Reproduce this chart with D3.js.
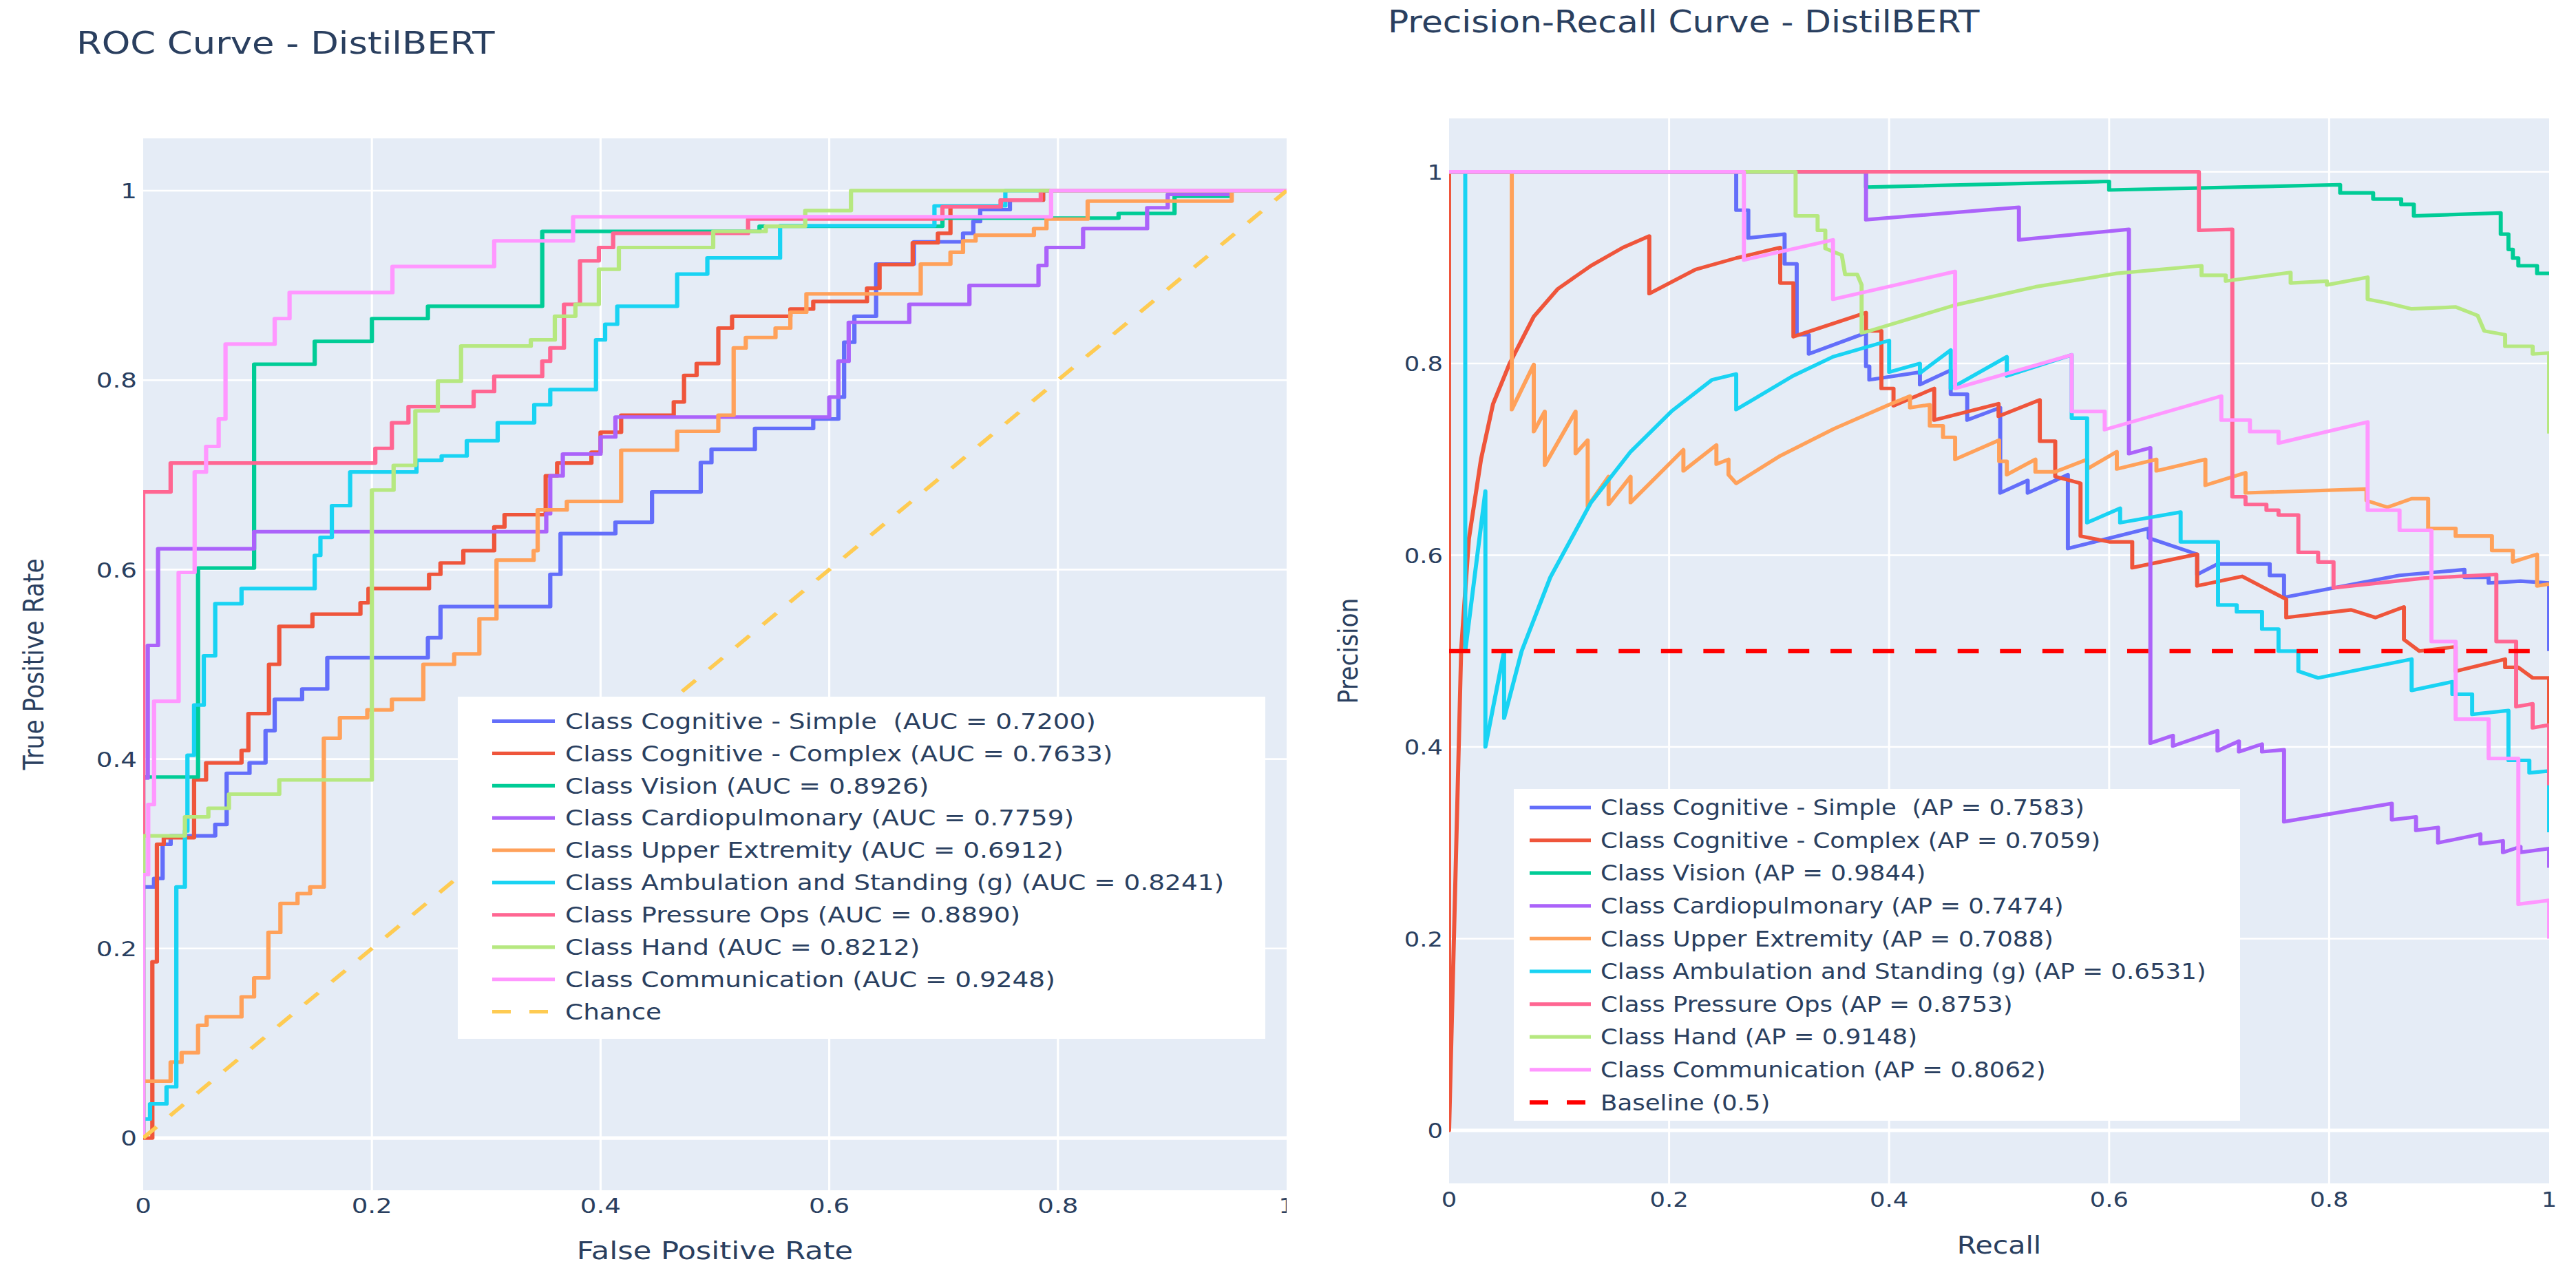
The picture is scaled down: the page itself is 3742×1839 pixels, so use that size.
<!DOCTYPE html>
<html><head><meta charset="utf-8">
<script src="https://cdn.jsdelivr.net/npm/d3@7"></script>
<style>
html,body{margin:0;padding:0;background:#fff;}
svg text{font-family:"DejaVu Sans",Verdana,sans-serif;fill:#2a3f5f;white-space:pre;}
</style></head><body>
<svg id="chart" width="3742" height="1839"></svg>
<script>
// ---------------- DATA ----------------
const classNames = ["Cognitive - Simple ", "Cognitive - Complex", "Vision", "Cardiopulmonary",
  "Upper Extremity", "Ambulation and Standing (g)", "Pressure Ops", "Hand", "Communication"];
const aucValues = [0.7200, 0.7633, 0.8926, 0.7759, 0.6912, 0.8241, 0.8890, 0.8212, 0.9248];
const apValues  = [0.7583, 0.7059, 0.9844, 0.7474, 0.7088, 0.6531, 0.8753, 0.9148, 0.8062];
const seriesColors = ["#636EFA","#EF553B","#00CC96","#AB63FA","#FFA15A","#19D3F3","#FF6692","#B6E880","#FF97FF"];
const tickValues = [0, 0.2, 0.4, 0.6, 0.8, 1];
const tickLabels = ["0", "0.2", "0.4", "0.6", "0.8", "1"];
const chanceLine = [[0, 0], [1, 1]];
const baselineValue = 0.5;

// ROC curves: [false positive rate, true positive rate]
const rocSimple = [[0,0],[0,0.265],[0.0095,0.265],[0.0095,0.274],[0.017,0.274],[0.017,0.31],[0.024,0.31],[0.024,0.319],[0.063,0.319],[0.063,0.331],[0.073,0.331],[0.073,0.385],[0.093,0.385],[0.093,0.396],[0.107,0.396],[0.107,0.43],[0.115,0.43],[0.115,0.463],[0.139,0.463],[0.139,0.474],[0.161,0.474],[0.161,0.507],[0.249,0.507],[0.249,0.528],[0.26,0.528],[0.26,0.561],[0.356,0.561],[0.356,0.595],[0.365,0.595],[0.365,0.638],[0.413,0.638],[0.413,0.65],[0.445,0.65],[0.445,0.682],[0.4876,0.682],[0.4876,0.713],[0.497,0.713],[0.497,0.727],[0.535,0.727],[0.535,0.749],[0.586,0.749],[0.586,0.759],[0.608,0.759],[0.608,0.782],[0.613,0.782],[0.613,0.84],[0.622,0.84],[0.622,0.8675],[0.641,0.8675],[0.641,0.9225],[0.674,0.9225],[0.674,0.946],[0.717,0.946],[0.717,0.955],[0.726,0.955],[0.726,0.9675],[0.732,0.9675],[0.732,0.98],[0.758,0.98],[0.758,0.99],[0.787,0.99],[0.787,1],[1,1]];
const rocComplex = [[0,0],[0.008,0],[0.008,0.186],[0.012,0.186],[0.012,0.31],[0.018,0.31],[0.018,0.317],[0.0445,0.317],[0.0445,0.378],[0.055,0.378],[0.055,0.396],[0.086,0.396],[0.086,0.409],[0.092,0.409],[0.092,0.448],[0.11,0.448],[0.11,0.5],[0.119,0.5],[0.119,0.54],[0.148,0.54],[0.148,0.553],[0.19,0.553],[0.19,0.565],[0.197,0.565],[0.197,0.58],[0.25,0.58],[0.25,0.595],[0.26,0.595],[0.26,0.607],[0.28,0.607],[0.28,0.62],[0.307,0.62],[0.307,0.645],[0.316,0.645],[0.316,0.658],[0.352,0.658],[0.352,0.699],[0.362,0.699],[0.362,0.7125],[0.392,0.7125],[0.392,0.724],[0.4,0.724],[0.4,0.745],[0.418,0.745],[0.418,0.763],[0.464,0.763],[0.464,0.777],[0.473,0.777],[0.473,0.805],[0.484,0.805],[0.484,0.8175],[0.503,0.8175],[0.503,0.855],[0.515,0.855],[0.515,0.8675],[0.566,0.8675],[0.566,0.875],[0.586,0.875],[0.586,0.883],[0.633,0.883],[0.633,0.897],[0.644,0.897],[0.644,0.922],[0.673,0.922],[0.673,0.945],[0.695,0.945],[0.695,0.955],[0.706,0.955],[0.706,0.983],[0.75,0.983],[0.75,0.99],[0.787,0.99],[0.787,1],[1,1]];
const rocVision = [[0,0],[0,0.381],[0.048,0.381],[0.048,0.6017],[0.097,0.6017],[0.097,0.8167],[0.15,0.8167],[0.15,0.841],[0.2,0.841],[0.2,0.865],[0.249,0.865],[0.249,0.878],[0.349,0.878],[0.349,0.957],[0.539,0.957],[0.539,0.9625],[0.699,0.9625],[0.699,0.971],[0.853,0.971],[0.853,0.976],[0.902,0.976],[0.902,0.994],[0.951,0.994],[0.951,1],[1,1]];
const rocCardio = [[0,0],[0,0.38],[0.004,0.38],[0.004,0.52],[0.013,0.52],[0.013,0.622],[0.097,0.622],[0.097,0.64],[0.3525,0.64],[0.3525,0.659],[0.356,0.659],[0.356,0.699],[0.367,0.699],[0.367,0.722],[0.4,0.722],[0.4,0.74],[0.413,0.74],[0.413,0.761],[0.6,0.761],[0.6,0.782],[0.608,0.782],[0.608,0.82],[0.617,0.82],[0.617,0.861],[0.67,0.861],[0.67,0.88],[0.7226,0.88],[0.7226,0.9],[0.783,0.9],[0.783,0.921],[0.79,0.921],[0.79,0.94],[0.822,0.94],[0.822,0.96],[0.878,0.96],[0.878,0.982],[0.896,0.982],[0.896,0.996],[0.951,0.996],[0.951,1],[1,1]];
const rocUpper = [[0,0],[0,0.06],[0.024,0.06],[0.024,0.08],[0.0336,0.08],[0.0336,0.09],[0.048,0.09],[0.048,0.119],[0.0555,0.119],[0.0555,0.128],[0.086,0.128],[0.086,0.149],[0.097,0.149],[0.097,0.169],[0.1095,0.169],[0.1095,0.217],[0.12,0.217],[0.12,0.2475],[0.135,0.2475],[0.135,0.258],[0.146,0.258],[0.146,0.265],[0.158,0.265],[0.158,0.422],[0.172,0.422],[0.172,0.4436],[0.196,0.4436],[0.196,0.452],[0.2175,0.452],[0.2175,0.463],[0.245,0.463],[0.245,0.5],[0.272,0.5],[0.272,0.511],[0.294,0.511],[0.294,0.548],[0.309,0.548],[0.309,0.61],[0.3415,0.61],[0.3415,0.62],[0.345,0.62],[0.345,0.663],[0.3705,0.663],[0.3705,0.672],[0.418,0.672],[0.418,0.726],[0.467,0.726],[0.467,0.746],[0.503,0.746],[0.503,0.763],[0.5164,0.763],[0.5164,0.834],[0.527,0.834],[0.527,0.845],[0.553,0.845],[0.553,0.855],[0.566,0.855],[0.566,0.8717],[0.58,0.8717],[0.58,0.891],[0.68,0.891],[0.68,0.9225],[0.706,0.9225],[0.706,0.935],[0.717,0.935],[0.717,0.947],[0.728,0.947],[0.728,0.953],[0.779,0.953],[0.779,0.96],[0.79,0.96],[0.79,0.97],[0.826,0.97],[0.826,0.989],[0.952,0.989],[0.952,1],[1,1]];
const rocAmbulation = [[0,0],[0,0.02],[0.006,0.02],[0.006,0.036],[0.0204,0.036],[0.0204,0.054],[0.029,0.054],[0.029,0.265],[0.0365,0.265],[0.0365,0.324],[0.0387,0.324],[0.0387,0.404],[0.0445,0.404],[0.0445,0.457],[0.053,0.457],[0.053,0.509],[0.063,0.509],[0.063,0.564],[0.086,0.564],[0.086,0.58],[0.15,0.58],[0.15,0.615],[0.155,0.615],[0.155,0.634],[0.165,0.634],[0.165,0.6675],[0.181,0.6675],[0.181,0.703],[0.239,0.703],[0.239,0.7154],[0.261,0.7154],[0.261,0.72],[0.283,0.72],[0.283,0.736],[0.31,0.736],[0.31,0.755],[0.342,0.755],[0.342,0.774],[0.356,0.774],[0.356,0.79],[0.396,0.79],[0.396,0.8425],[0.404,0.8425],[0.404,0.859],[0.4146,0.859],[0.4146,0.878],[0.467,0.878],[0.467,0.912],[0.4934,0.912],[0.4934,0.929],[0.557,0.929],[0.557,0.963],[0.692,0.963],[0.692,0.984],[0.754,0.984],[0.754,1],[1,1]];
const rocPressure = [[0,0],[0,0.682],[0.024,0.682],[0.024,0.7125],[0.203,0.7125],[0.203,0.728],[0.2175,0.728],[0.2175,0.755],[0.232,0.755],[0.232,0.772],[0.289,0.772],[0.289,0.788],[0.307,0.788],[0.307,0.804],[0.349,0.804],[0.349,0.82],[0.356,0.82],[0.356,0.834],[0.368,0.834],[0.368,0.88],[0.382,0.88],[0.382,0.926],[0.3985,0.926],[0.3985,0.94],[0.411,0.94],[0.411,0.955],[0.529,0.955],[0.529,0.97],[0.699,0.97],[0.699,0.983],[0.75,0.983],[0.75,0.99],[0.785,0.99],[0.785,1],[1,1]];
const rocHand = [[0,0],[0,0.319],[0.0365,0.319],[0.0365,0.339],[0.057,0.339],[0.057,0.348],[0.075,0.348],[0.075,0.363],[0.119,0.363],[0.119,0.378],[0.2,0.378],[0.2,0.684],[0.219,0.684],[0.219,0.71],[0.238,0.71],[0.238,0.7675],[0.2577,0.7675],[0.2577,0.799],[0.278,0.799],[0.278,0.836],[0.339,0.836],[0.339,0.8425],[0.36,0.8425],[0.36,0.8675],[0.378,0.8675],[0.378,0.88],[0.3985,0.88],[0.3985,0.917],[0.416,0.917],[0.416,0.94],[0.4985,0.94],[0.4985,0.957],[0.5445,0.957],[0.5445,0.9625],[0.579,0.9625],[0.579,0.979],[0.619,0.979],[0.619,1],[1,1]];
const rocCommunication = [[0,0],[0,0.278],[0.0044,0.278],[0.0044,0.352],[0.0095,0.352],[0.0095,0.461],[0.031,0.461],[0.031,0.597],[0.045,0.597],[0.045,0.703],[0.055,0.703],[0.055,0.73],[0.066,0.73],[0.066,0.759],[0.072,0.759],[0.072,0.838],[0.115,0.838],[0.115,0.865],[0.128,0.865],[0.128,0.8925],[0.218,0.8925],[0.218,0.92],[0.307,0.92],[0.307,0.947],[0.376,0.947],[0.376,0.9725],[0.794,0.9725],[0.794,1],[1,1]];

// Precision-recall curves: [recall, precision]
const prSimple = [[0,1],[0.261,1],[0.261,0.96],[0.272,0.96],[0.272,0.931],[0.305,0.935],[0.305,0.904],[0.316,0.904],[0.316,0.83],[0.327,0.83],[0.327,0.81],[0.379,0.832],[0.379,0.797],[0.382,0.797],[0.382,0.783],[0.428,0.791],[0.428,0.778],[0.456,0.793],[0.456,0.768],[0.471,0.768],[0.471,0.741],[0.501,0.754],[0.501,0.665],[0.526,0.678],[0.526,0.665],[0.5625,0.684],[0.5625,0.607],[0.636,0.628],[0.636,0.618],[0.68,0.601],[0.68,0.58],[0.699,0.591],[0.746,0.591],[0.746,0.579],[0.759,0.579],[0.759,0.556],[0.864,0.579],[0.923,0.585],[0.923,0.577],[0.945,0.577],[0.945,0.571],[0.974,0.573],[1,0.571],[1,0.554],[1,0.5]];
const prComplex = [[0,1],[0,0],[0.011,0.502],[0.018,0.617],[0.029,0.7],[0.04,0.758],[0.055,0.8],[0.077,0.849],[0.099,0.878],[0.129,0.902],[0.158,0.921],[0.182,0.933],[0.182,0.873],[0.224,0.898],[0.261,0.91],[0.301,0.921],[0.301,0.884],[0.313,0.884],[0.313,0.828],[0.379,0.853],[0.379,0.834],[0.393,0.834],[0.393,0.774],[0.404,0.774],[0.404,0.756],[0.441,0.774],[0.441,0.741],[0.4995,0.758],[0.4995,0.745],[0.537,0.762],[0.537,0.719],[0.551,0.719],[0.551,0.682],[0.574,0.675],[0.574,0.62],[0.6,0.614],[0.621,0.614],[0.621,0.587],[0.68,0.601],[0.68,0.568],[0.721,0.578],[0.761,0.554],[0.761,0.535],[0.82,0.543],[0.842,0.535],[0.868,0.546],[0.868,0.512],[0.882,0.5],[0.915,0.5045],[0.915,0.479],[0.96,0.4916],[0.96,0.483],[0.972,0.483],[0.985,0.472],[1,0.472],[1,0.42]];
const prVision = [[0,1],[0.379,1],[0.379,0.984],[0.6,0.99],[0.6,0.981],[0.81,0.9865],[0.81,0.978],[0.84,0.978],[0.84,0.9716],[0.8655,0.9716],[0.8655,0.966],[0.877,0.966],[0.877,0.954],[0.956,0.957],[0.956,0.935],[0.963,0.935],[0.963,0.919],[0.967,0.919],[0.967,0.91],[0.972,0.91],[0.972,0.902],[0.989,0.902],[0.989,0.894],[1,0.894]];
const prCardio = [[0,1],[0.379,1],[0.379,0.95],[0.518,0.963],[0.518,0.929],[0.618,0.94],[0.618,0.706],[0.6375,0.712],[0.6375,0.404],[0.658,0.412],[0.658,0.401],[0.6985,0.417],[0.6985,0.396],[0.718,0.406],[0.718,0.395],[0.739,0.403],[0.739,0.395],[0.759,0.397],[0.759,0.322],[0.857,0.341],[0.857,0.324],[0.879,0.327],[0.879,0.313],[0.899,0.316],[0.899,0.3],[0.9375,0.309],[0.9375,0.299],[0.958,0.302],[0.958,0.29],[0.974,0.296],[0.974,0.29],[1,0.294],[1,0.274]];
const prUpper = [[0,1],[0.057,1],[0.057,0.752],[0.077,0.799],[0.077,0.729],[0.087,0.75],[0.087,0.694],[0.115,0.75],[0.115,0.706],[0.126,0.72],[0.126,0.651],[0.145,0.682],[0.145,0.653],[0.165,0.682],[0.165,0.655],[0.213,0.71],[0.213,0.688],[0.243,0.715],[0.243,0.695],[0.254,0.7],[0.254,0.684],[0.261,0.675],[0.3,0.703],[0.35,0.732],[0.4,0.757],[0.419,0.766],[0.419,0.754],[0.437,0.757],[0.437,0.735],[0.449,0.735],[0.449,0.723],[0.46,0.723],[0.46,0.7],[0.5,0.72],[0.5,0.698],[0.507,0.698],[0.507,0.684],[0.533,0.7],[0.533,0.687],[0.551,0.687],[0.58,0.7],[0.58,0.69],[0.607,0.708],[0.607,0.69],[0.643,0.7],[0.643,0.688],[0.6875,0.7],[0.6875,0.673],[0.724,0.686],[0.724,0.665],[0.834,0.669],[0.834,0.657],[0.853,0.65],[0.875,0.659],[0.89,0.659],[0.89,0.628],[0.915,0.628],[0.915,0.62],[0.948,0.62],[0.948,0.605],[0.967,0.605],[0.967,0.593],[0.989,0.601],[0.989,0.568],[1,0.57]];
const prAmbulation = [[0,1],[0.0147,1],[0.0147,0.5],[0.033,0.667],[0.033,0.4],[0.05,0.5],[0.05,0.43],[0.066,0.5],[0.092,0.577],[0.129,0.655],[0.165,0.708],[0.202,0.75],[0.239,0.783],[0.261,0.789],[0.261,0.752],[0.3125,0.787],[0.349,0.807],[0.4,0.824],[0.4,0.791],[0.428,0.8],[0.428,0.79],[0.456,0.814],[0.456,0.774],[0.507,0.807],[0.507,0.787],[0.566,0.809],[0.566,0.743],[0.58,0.743],[0.58,0.634],[0.61,0.649],[0.61,0.634],[0.665,0.645],[0.665,0.614],[0.699,0.614],[0.699,0.548],[0.716,0.548],[0.716,0.541],[0.739,0.541],[0.739,0.523],[0.754,0.523],[0.754,0.5],[0.772,0.5],[0.772,0.479],[0.79,0.472],[0.875,0.4916],[0.875,0.459],[0.912,0.468],[0.912,0.455],[0.93,0.455],[0.93,0.434],[0.963,0.438],[0.963,0.386],[0.982,0.386],[0.982,0.373],[1,0.375],[1,0.311]];
const prPressure = [[0,1],[0.6816,1],[0.6816,0.939],[0.712,0.94],[0.712,0.661],[0.724,0.661],[0.724,0.653],[0.743,0.653],[0.743,0.647],[0.754,0.647],[0.754,0.642],[0.772,0.642],[0.772,0.603],[0.79,0.603],[0.79,0.593],[0.804,0.593],[0.804,0.566],[0.886,0.576],[0.952,0.58],[0.952,0.51],[0.97,0.51],[0.97,0.442],[0.985,0.445],[0.985,0.42],[1,0.423],[1,0.36]];
const prHand = [[0,1],[0.315,1],[0.315,0.954],[0.335,0.954],[0.335,0.939],[0.342,0.939],[0.342,0.92],[0.357,0.913],[0.36,0.893],[0.371,0.893],[0.375,0.882],[0.375,0.832],[0.379,0.833],[0.46,0.861],[0.533,0.88],[0.607,0.894],[0.684,0.902],[0.684,0.892],[0.706,0.892],[0.706,0.886],[0.765,0.895],[0.765,0.884],[0.798,0.886],[0.798,0.882],[0.835,0.89],[0.835,0.867],[0.853,0.863],[0.864,0.86],[0.875,0.857],[0.915,0.859],[0.935,0.85],[0.941,0.834],[0.96,0.83],[0.96,0.818],[0.985,0.818],[0.985,0.81],[1,0.811],[1,0.727]];
const prCommunication = [[0,1],[0.268,1],[0.268,0.908],[0.349,0.929],[0.349,0.867],[0.46,0.896],[0.46,0.774],[0.566,0.809],[0.566,0.75],[0.596,0.75],[0.596,0.731],[0.702,0.766],[0.702,0.741],[0.728,0.741],[0.728,0.729],[0.754,0.729],[0.754,0.717],[0.835,0.739],[0.835,0.647],[0.864,0.647],[0.864,0.626],[0.893,0.626],[0.893,0.51],[0.915,0.51],[0.915,0.429],[0.945,0.429],[0.945,0.388],[0.972,0.388],[0.972,0.236],[1,0.24],[1,0.2]];

const rocCurves = [rocSimple, rocComplex, rocVision, rocCardio, rocUpper, rocAmbulation, rocPressure, rocHand, rocCommunication];
const prCurves = [prSimple, prComplex, prVision, prCardio, prUpper, prAmbulation, prPressure, prHand, prCommunication];

// ---------------- LAYOUT ----------------
const svg = d3.select("#chart");
const defs = svg.append("defs");

function stext(g, sx, str, x, y, size, anchor, extra) {
  return g.append("text")
    .attr("transform", `translate(${x},${y}) scale(${sx},1)` + (extra || ""))
    .attr("text-anchor", anchor)
    .style("font-size", size + "px")
    .text(str);
}

function panel(cfg) {
  const SX = cfg.sx;
  const root = svg.append("g");
  if (cfg.clipRight) {
    defs.append("clipPath").attr("id", cfg.id + "-fig")
      .append("rect").attr("x", 0).attr("y", 0).attr("width", cfg.clipRight).attr("height", 1839);
    root.attr("clip-path", `url(#${cfg.id}-fig)`);
  }
  const x = d3.scaleLinear().domain([0, 1]).range([cfg.x0, cfg.x1]);
  const y = d3.scaleLinear().domain(cfg.ydom).range([cfg.y1, cfg.y0]);
  // same x scale expressed before the horizontal stretch of the reference image
  const xs = d3.scaleLinear().domain([0, 1]).range([cfg.x0 / SX, cfg.x1 / SX]);

  root.append("rect").attr("x", cfg.x0).attr("y", cfg.y0)
    .attr("width", cfg.x1 - cfg.x0).attr("height", cfg.y1 - cfg.y0).attr("fill", "#E5ECF6");

  // grid
  root.selectAll(".vg").data(tickValues.filter(v => v > 0 && v < 1)).join("line")
    .attr("x1", d => x(d)).attr("x2", d => x(d)).attr("y1", cfg.y0).attr("y2", cfg.y1)
    .attr("stroke", "#fff").attr("stroke-width", 2.6 * SX);
  root.selectAll(".hg").data(tickValues.filter(v => v > 0)).join("line")
    .attr("x1", cfg.x0).attr("x2", cfg.x1).attr("y1", d => y(d)).attr("y2", d => y(d))
    .attr("stroke", "#fff").attr("stroke-width", 2.6);
  root.append("line").attr("x1", cfg.x0).attr("x2", cfg.x1).attr("y1", y(0)).attr("y2", y(0))
    .attr("stroke", "#fff").attr("stroke-width", 5.2);

  // tick labels
  tickValues.forEach((v, i) => {
    stext(root, SX, tickLabels[i], cfg.x0 - 9, y(v), 31, "end").attr("dy", "0.36em");
    stext(root, SX, tickLabels[i], x(v), cfg.xTickY, 31, "middle").attr("dy", "0.36em");
  });

  // curves
  defs.append("clipPath").attr("id", cfg.id + "-plot")
    .append("rect").attr("x", cfg.x0).attr("y", cfg.y0).attr("width", cfg.x1 - cfg.x0).attr("height", cfg.y1 - cfg.y0);
  const pg = root.append("g").attr("clip-path", `url(#${cfg.id}-plot)`)
    .append("g").attr("transform", `scale(${SX},1)`);
  const line = d3.line().x(d => xs(d[0])).y(d => y(d[1]));
  cfg.curves.forEach((c, i) => {
    pg.append("path").attr("d", line(c)).attr("fill", "none")
      .attr("stroke", seriesColors[i]).attr("stroke-width", 5.2)
      .attr("stroke-linejoin", "round");
  });
  pg.append("path").attr("d", line(cfg.refLine)).attr("fill", "none")
    .attr("stroke", cfg.refColor).attr("stroke-width", cfg.refWidth).attr("stroke-dasharray", cfg.refDash);

  // titles
  stext(root, SX, cfg.title, cfg.titleX, cfg.titleY, 44, "start");
  stext(root, SX, cfg.xTitle, (cfg.x0 + cfg.x1) / 2, cfg.xTitleY, 36, "middle").attr("dy", "0.36em");
  stext(root, SX, cfg.yTitle, cfg.yTitleX, (cfg.y0 + cfg.y1) / 2, 34.5, "middle", " rotate(-90)").attr("dy", "0.36em");

  // legend
  const L = cfg.legend;
  root.append("rect").attr("x", L.x0).attr("y", L.y0).attr("width", L.x1 - L.x0).attr("height", L.y1 - L.y0).attr("fill", "#fff");
  const labels = classNames.map((n, i) => `Class ${n} (${cfg.metric} = ${cfg.values[i].toFixed(4)})`).concat([cfg.refName]);
  labels.forEach((lab, i) => {
    const cy = L.row0 + i * L.step;
    const isRef = i === classNames.length;
    root.append("line").attr("x1", L.sx0).attr("x2", L.sx1).attr("y1", cy).attr("y2", cy)
      .attr("stroke", isRef ? cfg.refColor : seriesColors[i]).attr("stroke-width", isRef ? cfg.refWidth : 5.2)
      .attr("stroke-dasharray", isRef ? cfg.legendDash : null);
    stext(root, SX, lab, L.tx, cy, 31.2, "start").attr("dy", "0.36em");
  });
}

panel({
  id: "roc", sx: 1.2, x0: 208, x1: 1869, y0: 201, y1: 1729, ydom: [-0.0552, 1.0552], clipRight: 1869,
  curves: rocCurves, refLine: chanceLine, refColor: "#FECB52", refWidth: 5.2, refDash: "23,23", legendDash: "27,27", refName: "Chance",
  title: "ROC Curve - DistilBERT", titleX: 111, titleY: 78,
  xTitle: "False Positive Rate", xTitleY: 1816, yTitle: "True Positive Rate", yTitleX: 48, xTickY: 1751,
  metric: "AUC", values: aucValues,
  legend: { x0: 665, x1: 1838, y0: 1012, y1: 1509, row0: 1047.5, step: 46.9, sx0: 715, sx1: 806, tx: 821 }
});
panel({
  id: "pr", sx: 1.14, x0: 2105, x1: 3703, y0: 172, y1: 1719, ydom: [-0.0553, 1.0557],
  curves: prCurves, refLine: [[0, baselineValue], [1, baselineValue]], refColor: "#FF0000", refWidth: 6.2, refDash: "27,27", legendDash: "27,27", refName: "Baseline (0.5)",
  title: "Precision-Recall Curve - DistilBERT", titleX: 2016, titleY: 47,
  xTitle: "Recall", xTitleY: 1808, yTitle: "Precision", yTitleX: 1958, xTickY: 1742,
  metric: "AP", values: apValues,
  legend: { x0: 2199, x1: 3254, y0: 1146, y1: 1628, row0: 1173, step: 47.6, sx0: 2222, sx1: 2311, tx: 2325 }
});
</script>
</body></html>
